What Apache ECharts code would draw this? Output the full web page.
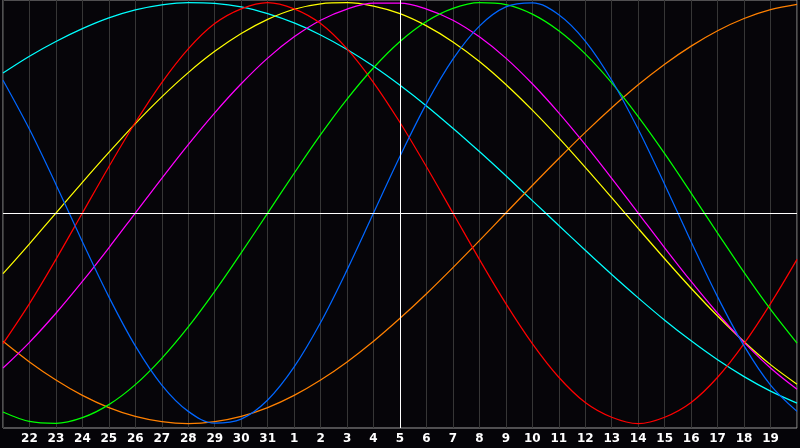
<!DOCTYPE html>
<html>
<head>
<meta charset="utf-8">
<script src="https://cdn.jsdelivr.net/npm/echarts@6/dist/echarts.min.js"></script>
<style>
html,body{margin:0;padding:0;background:#050408;}
#c{width:800px;height:448px;}
</style>
</head>
<body>
<div id="c"></div>
<script>
var days = ['21','22','23','24','25','26','27','28','29','30','31','1','2','3','4','5','6','7','8','9','10','11','12','13','14','15','16','17','18','19','20'];

var red = [-0.62,-0.43,-0.22,0,0.22,0.43,0.62,0.78,0.90,0.97,1.00,0.97,0.90,0.78,0.62,0.43,0.22,0,-0.22,-0.43,-0.62,-0.78,-0.90,-0.97,-1.00,-0.97,-0.90,-0.78,-0.62,-0.43,-0.22];
var green = [-0.945,-0.990,-0.999,-0.972,-0.910,-0.815,-0.690,-0.541,-0.372,-0.189,0,0.189,0.372,0.541,0.690,0.815,0.910,0.972,0.999,0.990,0.945,0.866,0.756,0.618,0.458,0.282,0.095,-0.095,-0.282,-0.458,-0.618];
var blue = [0.631,0.398,0.136,-0.136,-0.398,-0.631,-0.817,-0.942,-0.998,-0.979,-0.888,-0.731,-0.520,-0.270,0,0.270,0.520,0.731,0.888,0.979,0.998,0.942,0.817,0.631,0.398,0.136,-0.136,-0.398,-0.631,-0.817,-0.942];
var yellow = [-0.288,-0.146,0,0.146,0.288,0.425,0.552,0.667,0.768,0.853,0.920,0.968,0.994,0.999,0.983,0.947,0.889,0.813,0.720,0.611,0.489,0.357,0.217,0.073,-0.073,-0.217,-0.357,-0.489,-0.611,-0.720,-0.813];
var magenta = [-0.736,-0.614,-0.476,-0.325,-0.165,0,0.165,0.325,0.476,0.614,0.736,0.837,0.916,0.969,0.997,0.997,0.969,0.916,0.837,0.736,0.614,0.476,0.325,0.165,0,-0.165,-0.325,-0.476,-0.614,-0.736,-0.837];
var orange = [-0.609,-0.707,-0.793,-0.866,-0.924,-0.966,-0.991,-1.0,-0.991,-0.966,-0.924,-0.866,-0.793,-0.707,-0.609,-0.5,-0.383,-0.259,-0.131,0,0.131,0.259,0.383,0.5,0.609,0.707,0.793,0.866,0.924,0.966,0.991];
var cyan = [0.665,0.745,0.815,0.876,0.927,0.965,0.989,1.0,0.996,0.979,0.947,0.903,0.846,0.777,0.697,0.607,0.509,0.403,0.292,0.177,0.059,-0.059,-0.177,-0.292,-0.403,-0.509,-0.607,-0.697,-0.777,-0.846,-0.903];

var todayLabel = '5';

var lines = [
  {name:'cyan', data:cyan, color:'#00ffff'},
  {name:'orange', data:orange, color:'#ff8000'},
  {name:'yellow', data:yellow, color:'#ffff00'},
  {name:'magenta', data:magenta, color:'#ff00ff'},
  {name:'red', data:red, color:'#ff0000'},
  {name:'green', data:green, color:'#00ff00'},
  {name:'blue', data:blue, color:'#0066ff'}
];

var chart = echarts.init(document.getElementById('c'), null, {renderer:'canvas'});

var series = lines.map(function(l){
  return {
    type:'line', name:l.name, data:l.data, smooth:0.35, symbol:'none',
    lineStyle:{color:l.color, width:1.25}, silent:true, animation:false, z:3
  };
});

series.push({
  type:'line', data:[], symbol:'none', animation:false, silent:true, z:2,
  markLine:{
    silent:true, symbol:'none', label:{show:false}, animation:false,
    lineStyle:{color:'#ffffff', width:1, type:'solid'},
    data:[{xAxis: todayLabel},{yAxis: 0}]
  }
});

chart.setOption({
  backgroundColor:'#050408',
  animation:false,
  grid:{left:0, right:1, top:0, bottom:20, show:true, backgroundColor:'#060509', borderColor:'#9a9a9a', borderWidth:1},
  xAxis:{
    type:'category', data:days, boundaryGap:false,
    axisLine:{show:false}, axisTick:{show:false},
    splitLine:{show:true, interval:0, lineStyle:{color:'#363636', width:1}},
    axisLabel:{
      interval:0, color:'#ffffff', fontFamily:'DejaVu Sans', fontWeight:'bold', fontSize:12, margin:5,
      formatter:function(v, i){ return (i===0 || i===days.length-1) ? '' : v; }
    }
  },
  yAxis:{
    type:'value', min:-1.021, max:1.012,
    axisLine:{show:false}, axisTick:{show:false}, axisLabel:{show:false}, splitLine:{show:false}
  },
  series:series
});
</script>
</body>
</html>
